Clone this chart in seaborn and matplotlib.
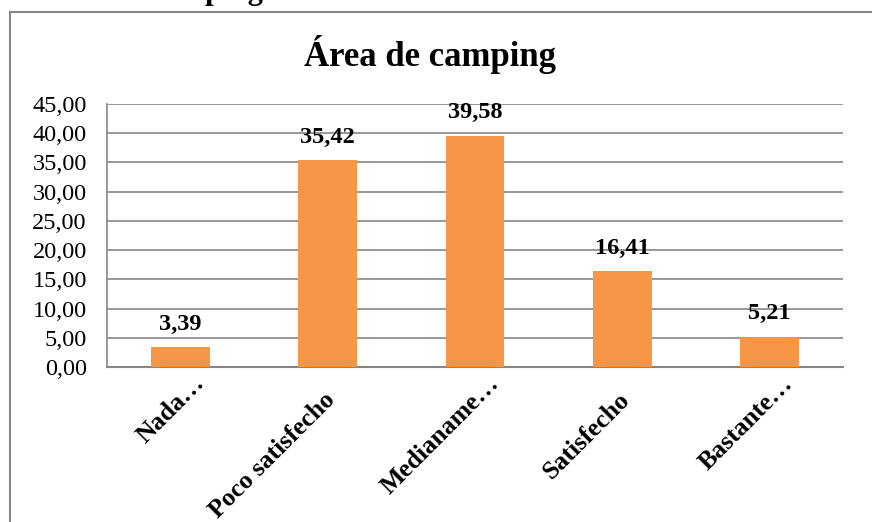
import matplotlib
matplotlib.use("Agg")
import matplotlib.pyplot as plt
import matplotlib.patches as mpatches
import matplotlib.transforms as mtransforms
import seaborn as sns
import pandas as pd

categories = ["Nada…", "Poco satisfecho", "Medianame…", "Satisfecho", "Bastante…"]
values = [3.39, 35.42, 39.58, 16.41, 5.21]
value_labels = ["3,39", "35,42", "39,58", "16,41", "5,21"]
yticks = [0, 5, 10, 15, 20, 25, 30, 35, 40, 45]
ytick_labels = ["0,00", "5,00", "10,00", "15,00", "20,00", "25,00", "30,00", "35,00", "40,00", "45,00"]
title = "Área de camping"

sns.set_theme(style="white")
plt.rcParams["font.family"] = ["Liberation Serif", "DejaVu Serif"]
plt.rcParams["text.color"] = "black"
plt.rcParams["xtick.color"] = "black"
plt.rcParams["ytick.color"] = "black"

W, H = 872, 522
fig = plt.figure(figsize=(W / 100, H / 100), dpi=100)
ax = fig.add_axes([107 / W, 1 - 367 / H, (843 - 107) / W, (367 - 104) / H])

df = pd.DataFrame({"cat": categories, "val": values})
sns.barplot(data=df, x="cat", y="val", color="#F79646", saturation=1, width=0.4, ax=ax,
            zorder=3, linewidth=0)

ax.set_ylim(0, 45)
ax.set_xlim(-0.5, len(categories) - 0.5)
ax.set_yticks(yticks)
ax.set_yticklabels(ytick_labels, fontsize=17.5)
ax.yaxis.grid(True, color="#868686", linewidth=1.2, zorder=0)
ax.set_axisbelow(True)
ax.set_xlabel("")
ax.set_ylabel("")
for s in ["top", "right"]:
    ax.spines[s].set_visible(False)
ax.spines["left"].set_color("#868686")
ax.spines["bottom"].set_color("#868686")
ax.spines["left"].set_linewidth(1.2)
ax.spines["bottom"].set_linewidth(1.5)
ax.tick_params(axis="y", length=0, pad=14.5, colors="black")
ax.tick_params(axis="x", length=0, pad=2, colors="black")

ax.set_xticks(range(len(categories)))
ax.set_xticklabels(categories, rotation=45, ha="right", va="center", rotation_mode="anchor",
                   fontsize=18.5, fontweight="bold")
for lbl in ax.get_xticklabels():
    if lbl.get_text().endswith("…"):
        off = mtransforms.ScaledTranslation(0.20, -0.10, fig.dpi_scale_trans)
    else:
        off = mtransforms.ScaledTranslation(0.035, -0.27, fig.dpi_scale_trans)
    lbl.set_transform(lbl.get_transform() + off)

for i, (v, t) in enumerate(zip(values, value_labels)):
    ax.annotate(t, (i, v), xytext=(0, 9), textcoords="offset points", ha="center", va="bottom",
                fontsize=17.5, fontweight="bold", color="black")

fig.text(430 / W, 1 - 55 / H, title, ha="center", va="center", fontsize=25, fontweight="bold",
         color="black")

# clipped heading from document above (only descenders visible)
fig.text(263 / W, 1 + 1 / H, "Área de camping", ha="right", va="baseline", fontsize=22,
         fontweight="bold", color="black")

# chart area border
rect = mpatches.Rectangle((10 / W, -0.1), 1.2, 1 - 12 / H + 0.1, transform=fig.transFigure,
                          fill=False, edgecolor="#868686", linewidth=1.5)
fig.add_artist(rect)

fig.savefig("out.png", dpi=100)
